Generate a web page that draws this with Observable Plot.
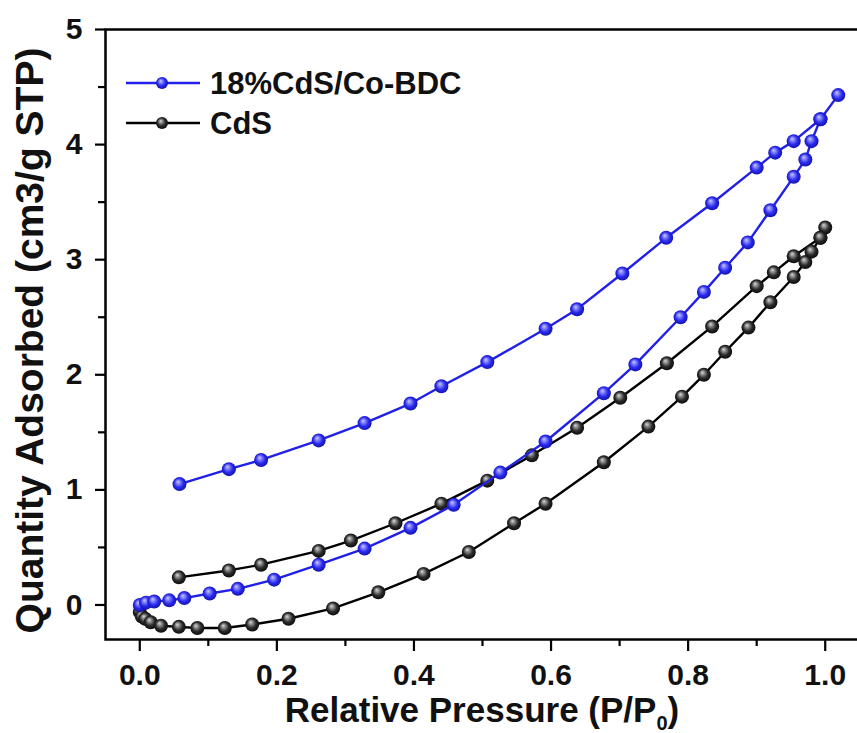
<!DOCTYPE html>
<html>
<head>
<meta charset="utf-8">
<script src="https://cdn.jsdelivr.net/npm/d3@7"></script>
<script src="https://cdn.jsdelivr.net/npm/@observablehq/plot@0.6"></script>
<style>
  html, body { margin: 0; padding: 0; background: #fff; }
  #chart svg { display: block; }
</style>
</head>
<body>
<div id="chart"></div>
<script>
// ---- data ----
const seriesNames = ["18%CdS/Co-BDC", "CdS"];
const xLabel = "Relative Pressure (P/P";
const xLabelSub = "0";
const yLabel = "Quantity Adsorbed (cm3/g STP)";
const xMajorTicks = [0.0, 0.2, 0.4, 0.6, 0.8, 1.0];
const xMinorTicks = [0.1, 0.3, 0.5, 0.7, 0.9];
const yMajorTicks = [0, 1, 2, 3, 4, 5];
const yMinorTicks = [0.5, 1.5, 2.5, 3.5, 4.5];

// 18%CdS/Co-BDC adsorption branch [P/P0, quantity]
const compAds = [
  [0.000,0.00],[0.009,0.02],[0.021,0.03],[0.043,0.04],[0.065,0.06],[0.102,0.10],
  [0.143,0.14],[0.196,0.22],[0.261,0.35],[0.328,0.49],[0.395,0.67],[0.458,0.87],
  [0.526,1.15],[0.592,1.42],[0.677,1.84],[0.723,2.09],[0.789,2.50],[0.823,2.72],
  [0.854,2.93],[0.887,3.15],[0.920,3.43],[0.954,3.72],[0.971,3.87],[0.980,4.03],
  [0.993,4.22],[1.019,4.43]
];
// 18%CdS/Co-BDC desorption branch
const compDes = [
  [0.993,4.22],[0.954,4.03],[0.927,3.93],[0.900,3.80],[0.835,3.49],[0.768,3.19],
  [0.704,2.88],[0.638,2.57],[0.592,2.40],[0.507,2.11],[0.440,1.90],[0.395,1.75],
  [0.328,1.58],[0.261,1.43],[0.177,1.26],[0.130,1.18],[0.058,1.05]
];
// CdS adsorption branch
const cdsAds = [
  [0.000,-0.06],[0.003,-0.10],[0.008,-0.12],[0.016,-0.15],[0.031,-0.18],[0.057,-0.19],
  [0.084,-0.20],[0.124,-0.20],[0.164,-0.17],[0.217,-0.12],[0.282,-0.03],[0.348,0.11],
  [0.414,0.27],[0.480,0.46],[0.546,0.71],[0.592,0.88],[0.677,1.24],[0.742,1.55],
  [0.791,1.81],[0.823,2.00],[0.854,2.20],[0.888,2.41],[0.920,2.63],[0.954,2.85],
  [0.971,2.98],[0.980,3.07],[0.993,3.19],[1.000,3.28]
];
// CdS desorption branch
const cdsDes = [
  [0.993,3.19],[0.954,3.03],[0.925,2.89],[0.900,2.77],[0.835,2.42],[0.769,2.10],
  [0.701,1.80],[0.638,1.54],[0.572,1.30],[0.507,1.08],[0.440,0.88],[0.373,0.71],
  [0.308,0.56],[0.261,0.47],[0.177,0.35],[0.130,0.30],[0.057,0.24]
];

const BLUE = "#2020e8";
const FONT = "'Liberation Sans', Arial, Helvetica, sans-serif";

function toRows(arr, series, branch) {
  return arr.map(([x, y]) => ({x, y, series, branch}));
}
const blackRows = [...toRows(cdsAds, "CdS", "ads"), ...toRows(cdsDes, "CdS", "des")];
const blueRows = [...toRows(compAds, "comp", "ads"), ...toRows(compDes, "comp", "des")];

const W = 857, H = 733;
const plot = Plot.plot({
  width: W,
  height: H,
  marginLeft: 105,
  marginRight: -2,
  marginTop: 29,
  marginBottom: 94,
  style: {fontFamily: FONT, background: "#fff", overflow: "visible"},
  x: {domain: [-0.05, 1.05], label: null},
  y: {domain: [-0.3, 5], label: null},
  marks: [
    Plot.axisX({ticks: xMinorTicks, tickSize: 7, text: null, strokeWidth: 2.2, label: null}),
    Plot.axisX({ticks: xMajorTicks, tickSize: 12, tickPadding: 12, tickFormat: d3.format(".1f"),
                strokeWidth: 2.2, fontSize: 30, fontWeight: "bold", fill: "#111", label: null}),
    Plot.axisY({ticks: yMinorTicks, tickSize: 7, text: null, strokeWidth: 2.2, label: null}),
    Plot.axisY({ticks: yMajorTicks, tickSize: 10, tickPadding: 13, tickFormat: d3.format("d"),
                strokeWidth: 2.2, fontSize: 30, fontWeight: "bold", fill: "#111", label: null}),
    Plot.frame({stroke: "#000", strokeWidth: 2.5}),
    Plot.line(blackRows, {x: "x", y: "y", z: "branch", stroke: "#000", strokeWidth: 2.4}),
    Plot.dot(blackRows, {x: "x", y: "y", r: 7, fill: "url(#gBlack)", stroke: "none"}),
    Plot.line(blueRows, {x: "x", y: "y", z: "branch", stroke: BLUE, strokeWidth: 2.4}),
    Plot.dot(blueRows, {x: "x", y: "y", r: 7, fill: "url(#gBlue)", stroke: "none"}),
    Plot.text([yLabel], {frameAnchor: "left", text: d => d, rotate: -90, dx: -75, dy: 6,
                         fontSize: 39, fontWeight: "bold", fill: "#111", textAnchor: "middle", lineAnchor: "middle"})
  ]
});

const svg = d3.select(plot);
const defs = svg.insert("defs", ":first-child");
function grad(id, c0, c1, c2) {
  const g = defs.append("radialGradient").attr("id", id)
    .attr("cx", 0.5).attr("cy", 0.5).attr("r", 0.6)
    .attr("fx", 0.38).attr("fy", 0.32);
  g.append("stop").attr("offset", "0%").attr("stop-color", c0);
  g.append("stop").attr("offset", "55%").attr("stop-color", c1);
  g.append("stop").attr("offset", "100%").attr("stop-color", c2);
}
grad("gBlue", "#c8c8ff", "#2a2af0", "#0a0a90");
grad("gBlack", "#d8d8d8", "#2a2a2a", "#000000");

// x-axis title with subscript
const xt = svg.append("text")
  .attr("x", 482).attr("y", 722)
  .attr("text-anchor", "middle")
  .attr("font-family", FONT).attr("font-weight", "bold").attr("font-size", 35)
  .attr("fill", "#111");
xt.append("tspan").text(xLabel);
xt.append("tspan").attr("font-size", 20).attr("dy", 8).text(xLabelSub);
xt.append("tspan").attr("dy", -8).text(")");

// legend
const legend = svg.append("g").attr("font-family", FONT);
const legendItems = [
  {name: seriesNames[0], color: BLUE, fill: "url(#gBlue)", y: 83},
  {name: seriesNames[1], color: "#000", fill: "url(#gBlack)", y: 123}
];
legendItems.forEach(it => {
  legend.append("line").attr("x1", 126).attr("x2", 200).attr("y1", it.y).attr("y2", it.y)
    .attr("stroke", it.color).attr("stroke-width", 2.4);
  legend.append("circle").attr("cx", 162).attr("cy", it.y).attr("r", 6).attr("fill", it.fill);
  legend.append("text").attr("x", 210).attr("y", it.y).attr("dy", "0.36em")
    .attr("text-anchor", "start")
    .attr("font-size", 31).attr("font-weight", "bold").attr("fill", "#111").text(it.name);
});

document.getElementById("chart").appendChild(plot);
</script>
</body>
</html>
